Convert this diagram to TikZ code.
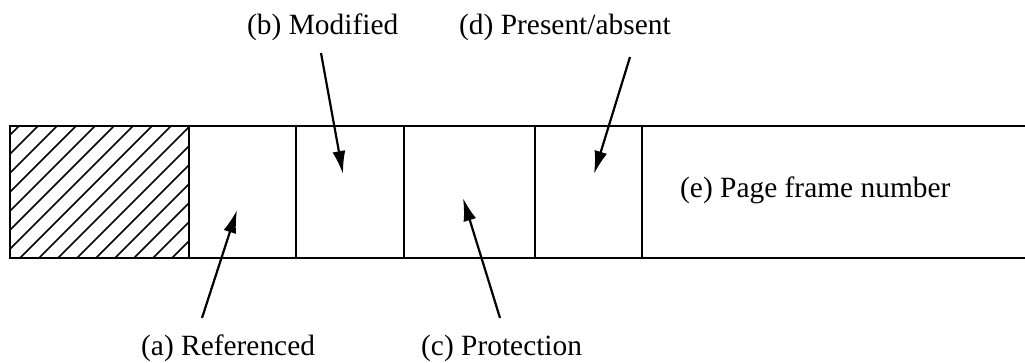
\documentclass[tikz,border=0pt]{standalone}
\usepackage{fontspec}
\setmainfont{Liberation Serif}
\usetikzlibrary{arrows.meta}
\begin{document}
\begin{tikzpicture}[x=1pt,y=-1pt,
  bar/.style={line width=2pt},
  hatchline/.style={line width=1.5pt},
  lbl/.style={inner sep=0pt,anchor=base west,font=\fontsize{29.4}{32}\selectfont},
  pointer/.style={line width=2.2pt,-{Latex[length=23pt,width=13pt]}}]
\useasboundingbox (0,0) rectangle (1025,363);
% hatching
\begin{scope}
  \clip (10,126) rectangle (189,258);
  \foreach \i in {0,...,18}{
    \draw[hatchline] (10+\i*19-150,258+8) -- ++(150,-150);
  }
\end{scope}
% bar
\draw[bar] (1025,126) -- (10,126) -- (10,258) -- (1025,258);
\foreach \xx in {189,296,404,535,642}{
  \draw[bar] (\xx,126) -- (\xx,258);
}
% labels
\node[lbl] (la) at (141,355) {(a) Referenced};
\node[lbl] (lb) at (247,35) {(b) Modified};
\node[lbl] (lc) at (421,355) {(c) Protection};
\node[lbl] (ld) at (459,35) {(d) Present/absent};
\node[lbl] (le) at (680,198) {(e) Page frame number};
% arrows
\coordinate (ta) at (202,318); \coordinate (pa) at (237,210);
\coordinate (tb) at (321,53);  \coordinate (pb) at (343,174);
\coordinate (tc) at (500,318); \coordinate (pc) at (463,198);
\coordinate (td) at (630,57);  \coordinate (pd) at (594,174);
\draw[pointer] (ta) -- (pa);
\draw[pointer] (tb) -- (pb);
\draw[pointer] (tc) -- (pc);
\draw[pointer] (td) -- (pd);
\end{tikzpicture}
\end{document}
